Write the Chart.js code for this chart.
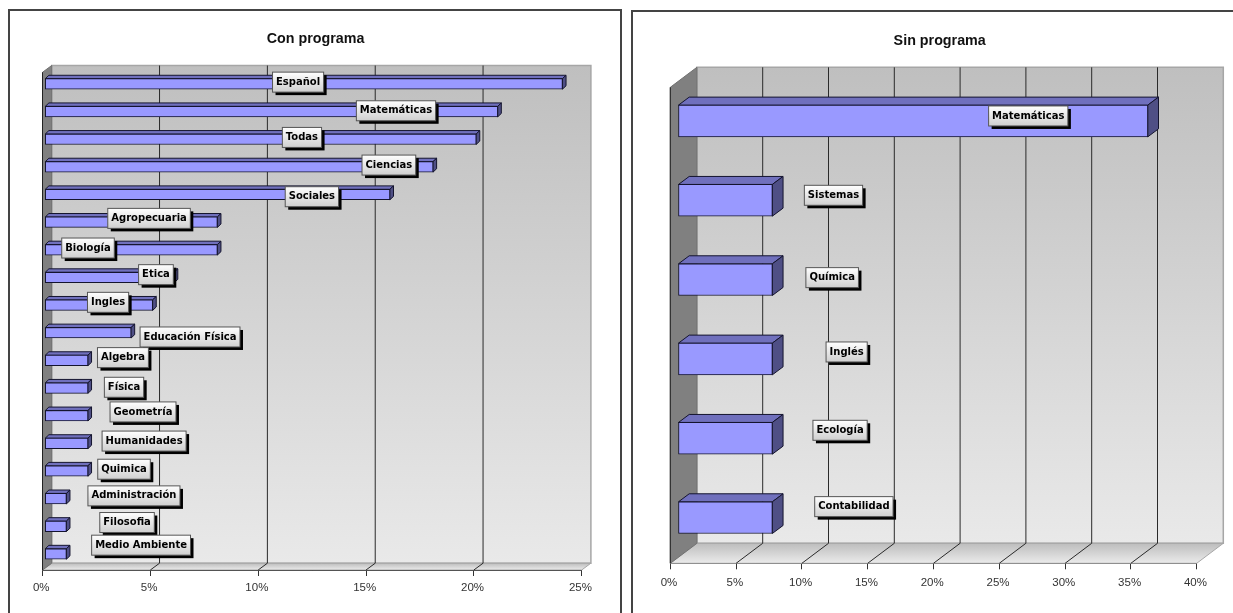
<!DOCTYPE html>
<html>
<head>
<meta charset="utf-8">
<title>Con programa / Sin programa</title>
<script src="https://cdn.jsdelivr.net/npm/chart.js@4"></script>
<style>
    html, body { margin: 0; padding: 0; background: #fff; overflow: hidden; }
    .panel { position: absolute; box-sizing: border-box; border: 2px solid #444; border-bottom: none; }
    canvas { position: absolute; top: 0; }
</style>
</head>
<body>
<div class="panel" style="left:8px; top:9px; width:614px; height:604px;"></div>
<div class="panel" style="left:631px; top:10px; width:610px; height:603px;"></div>
<canvas id="chartCon" width="631" height="613" style="left:0"></canvas>
<canvas id="chartSin" width="587" height="613" style="left:646px"></canvas>
<script>
// Con programa
const conLabels = ["Español", "Matemáticas", "Todas", "Ciencias", "Sociales", "Agropecuaria", "Biología", "Etica", "Ingles",
    "Educación Física", "Algebra", "Física", "Geometría", "Humanidades", "Quimica", "Administración", "Filosofia", "Medio Ambiente"];
const conValues = [24, 21, 20, 18, 16, 8, 8, 6, 5, 4, 2, 2, 2, 2, 2, 1, 1, 1];
// where each hand-moved label box sits: along the axis (%), and px off its bar row
const conLabelAt = [11.85, 16.39, 12.03, 16.06, 12.49, 4.94, 2.11, 5.26, 3.04, 6.84, 3.73, 3.78, 4.66, 4.71, 3.78, 4.24, 3.92, 4.57];
const conLabelDy = [-4, -3, -4, -4, 0, -6, -4, -5, -5, 2, -5, -3, -6, -4.5, -4, -5, -6, -11];

// Sin programa
const sinLabels = ["Matemáticas", "Sistemas", "Química", "Inglés", "Ecología", "Contabilidad"];
const sinValues = [35.7, 7.17, 7.17, 7.17, 7.17, 7.17];
const sinLabelAt = [27.2, 12.4, 12.3, 13.4, 12.9, 13.95];
const sinLabelDy = [-11, -11, -8, -13, -14, -17];

function poly(ctx, pts, fill, stroke, lw) {
    ctx.beginPath();
    pts.forEach((p, i) => i ? ctx.lineTo(p[0], p[1]) : ctx.moveTo(p[0], p[1]));
    ctx.closePath();
    if (fill) { ctx.fillStyle = fill; ctx.fill(); }
    if (stroke) { ctx.strokeStyle = stroke; ctx.lineWidth = lw || 1; ctx.stroke(); }
}

// walls, floor and the grid of the 3D box
const box3d = {
    id: 'box3d',
    beforeDatasetsDraw(chart, args, o) {
        const { ctx, chartArea: a, scales: { x } } = chart;
        const dx = o.wall[0], dy = o.wall[1];
        ctx.save();
        let g = ctx.createLinearGradient(0, a.top + dy, 0, a.bottom + dy);
        g.addColorStop(0, '#bfbfbf');
        g.addColorStop(1, '#e9e9e9');
        poly(ctx, [[a.left + dx, a.top + dy], [a.right + dx, a.top + dy], [a.right + dx, a.bottom + dy], [a.left + dx, a.bottom + dy]], g, '#a6a6a6', 1.5);
        g = ctx.createLinearGradient(0, a.bottom + dy, 0, a.bottom);
        g.addColorStop(0, '#bdbdbd');
        g.addColorStop(1, '#ebebeb');
        poly(ctx, [[a.left, a.bottom], [a.left + dx, a.bottom + dy], [a.right + dx, a.bottom + dy], [a.right, a.bottom]], g, '#a6a6a6', 1);
        poly(ctx, [[a.left, a.top], [a.left + dx, a.top + dy], [a.left + dx, a.bottom + dy], [a.left, a.bottom]], '#808080', '#707070', 1);
        ctx.strokeStyle = '#2a2a2a';
        ctx.lineWidth = 1;
        x.ticks.slice(1, -1).forEach(t => {
            const px = x.getPixelForValue(t.value);
            ctx.beginPath();
            ctx.moveTo(px + dx, a.top + dy);
            ctx.lineTo(px + dx, a.bottom + dy);
            ctx.lineTo(px, a.bottom);
            ctx.stroke();
        });
        ctx.strokeStyle = '#222';
        ctx.beginPath();
        ctx.moveTo(a.left, a.top);
        ctx.lineTo(a.left, a.bottom);
        ctx.stroke();
        ctx.restore();
    },
    // bars stand a little inside the box, so shift them and add their top and side
    beforeDatasetDraw(chart, args, o) {
        const ctx = chart.ctx;
        const dx = o.barDepth[0], dy = o.barDepth[1];
        ctx.save();
        ctx.translate(o.barShift[0], o.barShift[1]);
        chart.getDatasetMeta(args.index).data.forEach(b => {
            const h = b.height / 2;
            const x0 = b.base, x1 = b.x;
            poly(ctx, [[x0, b.y - h], [x0 + dx, b.y - h + dy], [x1 + dx, b.y - h + dy], [x1, b.y - h]], '#7070bd', '#14142e', 1);
            poly(ctx, [[x1, b.y - h], [x1 + dx, b.y - h + dy], [x1 + dx, b.y + h + dy], [x1, b.y + h]], '#4f4f85', '#14142e', 1);
        });
    },
    afterDatasetDraw(chart) {
        chart.ctx.restore();
    },
    afterDatasetsDraw(chart, args, o) {
        const { ctx, scales: { x } } = chart;
        const meta = chart.getDatasetMeta(0);
        ctx.save();
        ctx.font = 'bold 10px "DejaVu Sans"';
        ctx.textAlign = 'center';
        ctx.textBaseline = 'middle';
        chart.data.labels.forEach((name, i) => {
            const cx = x.getPixelForValue(o.labelAt[i]);
            const cy = meta.data[i].y + o.labelDy[i];
            const w = ctx.measureText(name).width + 7, h = 20;
            const l = cx - w / 2, t = cy - h / 2;
            ctx.fillStyle = '#000';
            ctx.fillRect(l + 3, t + 3, w, h);
            const g = ctx.createLinearGradient(0, t, 0, t + h);
            g.addColorStop(0, '#ffffff');
            g.addColorStop(1, '#cfcfcf');
            ctx.fillStyle = g;
            ctx.fillRect(l, t, w, h);
            ctx.strokeStyle = '#555';
            ctx.lineWidth = 1;
            ctx.strokeRect(l, t, w, h);
            ctx.fillStyle = '#000';
            ctx.fillText(name, cx, cy);
        });
        ctx.restore();
    }
};

function makeChart(id, title, labels, values, o) {
    return new Chart(document.getElementById(id), {
        type: 'bar',
        data: {
            labels: labels,
            datasets: [{
                data: values,
                backgroundColor: '#9999ff',
                borderColor: '#14142e',
                borderWidth: 1,
                borderSkipped: false,
                barThickness: o.barHeight,
                clip: false
            }]
        },
        plugins: [box3d],
        options: {
            indexAxis: 'y',
            responsive: false,
            animation: false,
            layout: { padding: { left: o.left, right: o.right, top: 0, bottom: 0 } },
            scales: {
                x: {
                    min: 0,
                    max: o.max,
                    afterFit: s => { s.height = o.axisHeight; },
                    border: { color: '#000', width: 1 },
                    grid: { drawOnChartArea: false, drawTicks: true, tickLength: 6, color: '#333' },
                    ticks: {
                        stepSize: 5,
                        padding: o.tickPad,
                        labelOffset: -1.3,
                        maxRotation: 0,
                        autoSkip: false,
                        color: '#333',
                        font: { family: '"Liberation Sans"', size: 11.5 },
                        callback: v => v + '%'
                    }
                },
                // empty axis on the right, it only keeps room for the box depth
                y: {
                    position: 'right',
                    afterFit: s => { s.width = o.depthRoom; },
                    border: { display: false },
                    grid: { display: false },
                    ticks: { display: false }
                }
            },
            plugins: {
                legend: { display: false },
                tooltip: { enabled: false },
                title: {
                    display: true,
                    text: title,
                    color: '#111',
                    font: { family: '"Liberation Sans"', size: 14.3, weight: 'bold' },
                    padding: { top: o.titleTop, bottom: o.titleBottom }
                },
                box3d: { wall: o.wall, barShift: o.barShift, barDepth: o.barDepth, labelAt: o.labelAt, labelDy: o.labelDy }
            }
        }
    });
}

makeChart('chartCon', 'Con programa', conLabels, conValues, {
    max: 25, left: 42.5, right: 42.5, depthRoom: 6.8, axisHeight: 43, tickPad: 4.5,
    titleTop: 30.4, titleBottom: 24.74,
    wall: [9.2, -6.8], barShift: [2.3, -2.2], barDepth: [3.6, -3.4], barHeight: 10.5,
    labelAt: conLabelAt, labelDy: conLabelDy
});
makeChart('chartSin', 'Sin programa', sinLabels, sinValues, {
    max: 40, left: 24.3, right: 23.9, depthRoom: 12.4, axisHeight: 49.7, tickPad: 6.5,
    titleTop: 32.4, titleBottom: 37.74,
    wall: [26.6, -20], barShift: [7.7, -6], barDepth: [10.7, -8], barHeight: 31.7,
    labelAt: sinLabelAt, labelDy: sinLabelDy
});
</script>
</body>
</html>
